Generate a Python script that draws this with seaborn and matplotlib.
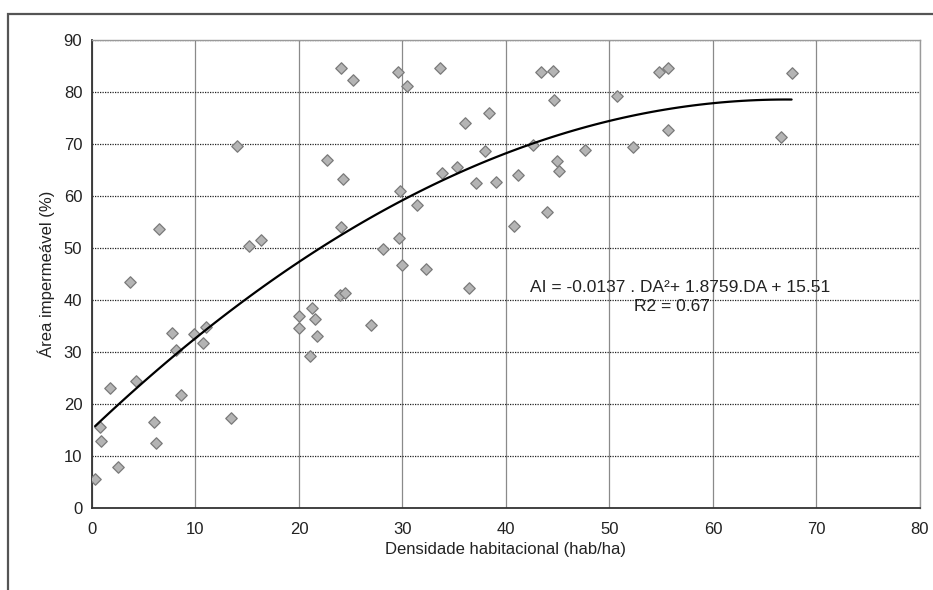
import numpy as np
import pandas as pd
import matplotlib
matplotlib.use('Agg')
import matplotlib.pyplot as plt
from matplotlib.patches import Rectangle
import seaborn as sns

# densidade habitacional (hab/ha) e area impermeavel (%)
densidade = [0.3, 0.8, 0.9, 1.7, 2.5, 3.7, 4.3, 6.0, 6.2, 6.5,
             7.7, 8.1, 8.6, 9.9, 10.7, 11.0, 13.4, 14.0, 15.2, 16.3,
             20.0, 20.0, 21.1, 21.3, 21.5, 21.7, 22.7, 24.0, 24.4, 24.1,
             24.3, 24.1, 25.2, 27.0, 28.1, 29.6, 29.7, 29.8, 29.95, 30.4,
             31.4, 32.3, 33.65, 33.8, 35.3, 36.0, 36.4, 37.1, 38.0, 38.4,
             39.0, 40.8, 41.2, 42.6, 43.4, 44.0, 44.5, 44.6, 44.9, 45.1,
             47.6, 50.7, 52.3, 54.8, 55.7, 55.7, 66.6, 67.6]
area_imp = [5.6, 15.6, 12.9, 23.1, 7.9, 43.5, 24.5, 16.6, 12.5, 53.6,
            33.7, 30.4, 21.8, 33.5, 31.8, 34.9, 17.4, 69.7, 50.4, 51.5,
            36.9, 34.6, 29.2, 38.4, 36.3, 33.1, 66.9, 40.9, 41.3, 54.0,
            63.3, 84.6, 82.4, 35.2, 49.8, 83.8, 52.0, 61.0, 46.7, 81.2,
            58.3, 46.0, 84.7, 64.5, 65.5, 74.0, 42.4, 62.5, 68.7, 75.9,
            62.7, 54.2, 64.1, 69.8, 83.9, 57.0, 84.0, 78.4, 66.7, 64.9,
            68.8, 79.2, 69.5, 83.8, 84.7, 72.8, 71.4, 83.7]

x_ticks = list(range(0, 81, 10))
y_ticks = list(range(0, 91, 10))

equacao = 'AI = -0.0137 . DA²+ 1.8759.DA + 15.51'
r2_texto = 'R2 = 0.67'

df = pd.DataFrame({'densidade': densidade, 'area': area_imp})

sns.set_style('white')
plt.rcParams['font.family'] = ['Liberation Sans', 'DejaVu Sans']

fig = plt.figure(figsize=(9.33, 5.90), dpi=100)
ax = fig.add_axes([0.0986, 0.139, 0.8874, 0.793])

# moldura externa (estilo Excel)
fig.patches.append(Rectangle((8 / 933, -0.1), 1.0, 1 - 14 / 590 + 0.1,
                             transform=fig.transFigure, fill=False,
                             edgecolor='#555555', linewidth=1.6))

sns.scatterplot(data=df, x='densidade', y='area', marker='D', s=34,
                color='#b4b4b4', edgecolor='#7a7a7a', linewidth=0.9,
                ax=ax, zorder=3)

# curva de tendencia polinomial (ordem 2)
sns.regplot(data=df, x='densidade', y='area', order=2, ci=None,
            scatter=False, truncate=True,
            line_kws={'color': 'black', 'linewidth': 1.6, 'zorder': 4}, ax=ax)

ax.set_xlim(0, 80)
ax.set_ylim(0, 90)
ax.set_xticks(x_ticks)
ax.set_yticks(y_ticks)

ax.yaxis.grid(True, linestyle=(0, (1, 1)), color='#222222', linewidth=0.9)
ax.xaxis.grid(True, linestyle='-', color='#8a8a8a', linewidth=0.9)
ax.set_axisbelow(True)

for side in ['top', 'right']:
    ax.spines[side].set_color('#9a9a9a')
    ax.spines[side].set_linewidth(1.0)
for side in ['left', 'bottom']:
    ax.spines[side].set_color('#333333')
    ax.spines[side].set_linewidth(1.3)

ax.tick_params(axis='both', direction='inout', length=6, width=0.9,
               color='#555555', labelsize=12, labelcolor='#222222', pad=4)
ax.tick_params(axis='x', pad=7)

ax.set_xlabel('Densidade habitacional (hab/ha)', fontsize=12, color='#222222', labelpad=4)
ax.set_ylabel('Área impermeável (%)', fontsize=12, color='#222222', labelpad=6)

ax.text(56.8, 42.5, equacao, ha='center', va='center', fontsize=12.5, color='#222222')
ax.text(56.0, 38.8, r2_texto, ha='center', va='center', fontsize=12.5, color='#222222')

plt.savefig('out.png', dpi=100)
plt.close()
